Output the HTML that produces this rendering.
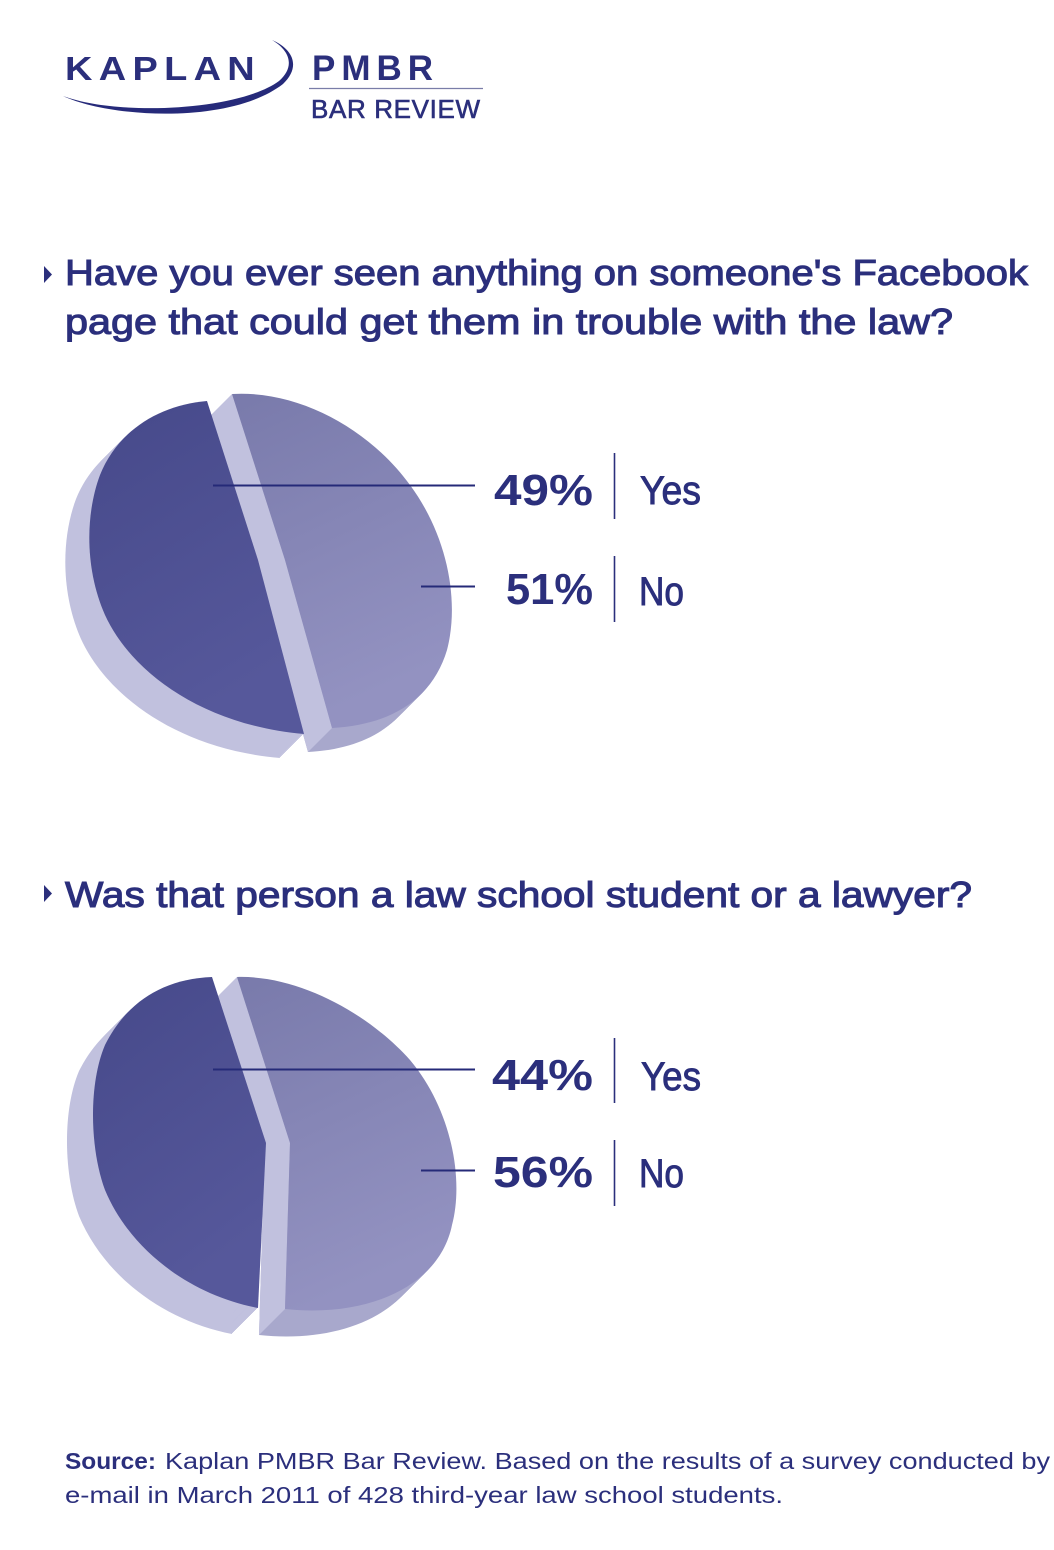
<!DOCTYPE html>
<html>
<head>
<meta charset="utf-8">
<style>
  html,body{margin:0;padding:0;background:#ffffff;}
  body{width:1054px;height:1550px;overflow:hidden;}
  svg{display:block;}
  .t{font-family:"Liberation Sans",sans-serif;fill:#2b2f7c;}
</style>
</head>
<body>
<svg width="1054" height="1550" viewBox="0 0 1054 1550" xmlns="http://www.w3.org/2000/svg">
  <defs>
    <linearGradient id="gd" x1="0" y1="0" x2="0.4" y2="1">
      <stop offset="0" stop-color="#46498a"/>
      <stop offset="1" stop-color="#56589b"/>
    </linearGradient>
    <linearGradient id="gl" x1="0" y1="0" x2="0.3" y2="1">
      <stop offset="0" stop-color="#797aab"/>
      <stop offset="1" stop-color="#9392c1"/>
    </linearGradient>
    <path id="d1" d="M207,401 C160,405 118,430 100,475 C85,515 85,570 105,615 C130,670 200,725 304,734 L258,560 Z"/>
    <path id="l1" d="M232,394 C300,390 370,430 410,485 C447,535 460,600 447,650 C432,700 390,725 332,728 L285,560 Z"/>
    <path id="d2" d="M212,977 C160,979 125,1005 105,1045 C88,1085 90,1150 105,1190 C130,1250 190,1295 258,1308 L266,1143 Z"/>
    <path id="l2" d="M237,977 C300,975 370,1015 410,1060 C452,1110 464,1180 452,1225 C440,1285 370,1318 285,1309 L290,1143 Z"/>
  </defs>

  <!-- ===== LOGO ===== -->
  <path d="M63,96 C110,118 230,125 283,84 C300,68 295,50 272,40 C292,52 294,68 279,81 C240,110 120,117 63,96 Z" fill="#262a7a"/>
  <text class="t" transform="translate(65,80) scale(1.15,1)" x="0" y="0" font-size="33" font-weight="bold" letter-spacing="5.5">KAPLAN</text>
  <text class="t" x="312" y="80" font-size="35" font-weight="bold" textLength="121" lengthAdjust="spacing">PMBR</text>
  <line x1="309" y1="88.5" x2="483" y2="88.5" stroke="#7a7da8" stroke-width="1.2"/>
  <text class="t" x="311" y="118" font-size="26" textLength="169" lengthAdjust="spacing" stroke="#2b2f7c" stroke-width="0.6">BAR REVIEW</text>

  <!-- ===== QUESTION 1 ===== -->
  <polygon points="44,266 52,274.5 44,283" fill="#2b2f7c"/>
  <text class="t" x="65" y="285" font-size="36" textLength="963" lengthAdjust="spacingAndGlyphs" stroke="#2b2f7c" stroke-width="1.05">Have you ever seen anything on someone's Facebook</text>
  <text class="t" x="65" y="334" font-size="36" textLength="888" lengthAdjust="spacingAndGlyphs" stroke="#2b2f7c" stroke-width="1.05">page that could get them in trouble with the law?</text>

  <!-- ===== PIE 1 ===== -->
  <g fill="#c1c1de">
    <use href="#d1" transform="translate(-1,1)"/><use href="#d1" transform="translate(-2,2)"/>
    <use href="#d1" transform="translate(-3,3)"/><use href="#d1" transform="translate(-4,4)"/>
    <use href="#d1" transform="translate(-5,5)"/><use href="#d1" transform="translate(-6,6)"/>
    <use href="#d1" transform="translate(-7,7)"/><use href="#d1" transform="translate(-8,8)"/>
    <use href="#d1" transform="translate(-9,9)"/><use href="#d1" transform="translate(-10,10)"/>
    <use href="#d1" transform="translate(-11,11)"/><use href="#d1" transform="translate(-12,12)"/>
    <use href="#d1" transform="translate(-13,13)"/><use href="#d1" transform="translate(-14,14)"/>
    <use href="#d1" transform="translate(-15,15)"/><use href="#d1" transform="translate(-16,16)"/>
    <use href="#d1" transform="translate(-17,17)"/><use href="#d1" transform="translate(-18,18)"/>
    <use href="#d1" transform="translate(-19,19)"/><use href="#d1" transform="translate(-20,20)"/>
    <use href="#d1" transform="translate(-21,21)"/><use href="#d1" transform="translate(-22,22)"/>
    <use href="#d1" transform="translate(-23,23)"/><use href="#d1" transform="translate(-24,24)"/>
  </g>
  <g fill="#a8a8cc">
    <use href="#l1" transform="translate(-1,1)"/><use href="#l1" transform="translate(-2,2)"/>
    <use href="#l1" transform="translate(-3,3)"/><use href="#l1" transform="translate(-4,4)"/>
    <use href="#l1" transform="translate(-5,5)"/><use href="#l1" transform="translate(-6,6)"/>
    <use href="#l1" transform="translate(-7,7)"/><use href="#l1" transform="translate(-8,8)"/>
    <use href="#l1" transform="translate(-9,9)"/><use href="#l1" transform="translate(-10,10)"/>
    <use href="#l1" transform="translate(-11,11)"/><use href="#l1" transform="translate(-12,12)"/>
    <use href="#l1" transform="translate(-13,13)"/><use href="#l1" transform="translate(-14,14)"/>
    <use href="#l1" transform="translate(-15,15)"/><use href="#l1" transform="translate(-16,16)"/>
    <use href="#l1" transform="translate(-17,17)"/><use href="#l1" transform="translate(-18,18)"/>
    <use href="#l1" transform="translate(-19,19)"/><use href="#l1" transform="translate(-20,20)"/>
    <use href="#l1" transform="translate(-21,21)"/><use href="#l1" transform="translate(-22,22)"/>
    <use href="#l1" transform="translate(-23,23)"/><use href="#l1" transform="translate(-24,24)"/>
  </g>
  <polygon points="232,394 285,560 332,728 308,752 261,584 208,418" fill="#c1c1de"/>
  <use href="#d1" fill="url(#gd)"/>
  <use href="#l1" fill="url(#gl)"/>
  <line x1="213" y1="485.5" x2="475" y2="485.5" stroke="#252a78" stroke-width="2"/>
  <line x1="421" y1="586.5" x2="475" y2="586.5" stroke="#252a78" stroke-width="2"/>

  <text class="t" x="494" y="505" font-size="44" font-weight="bold" textLength="99" lengthAdjust="spacingAndGlyphs">49%</text>
  <line x1="614.5" y1="453" x2="614.5" y2="519" stroke="#2b2f7c" stroke-width="1.6"/>
  <text class="t" x="640" y="504" font-size="40" textLength="61" lengthAdjust="spacingAndGlyphs" stroke="#2b2f7c" stroke-width="0.9">Yes</text>
  <text class="t" x="506" y="604" font-size="44" font-weight="bold" textLength="87" lengthAdjust="spacingAndGlyphs">51%</text>
  <line x1="614.5" y1="556" x2="614.5" y2="622" stroke="#2b2f7c" stroke-width="1.6"/>
  <text class="t" x="639" y="605" font-size="40" textLength="45" lengthAdjust="spacingAndGlyphs" stroke="#2b2f7c" stroke-width="0.9">No</text>

  <!-- ===== QUESTION 2 ===== -->
  <polygon points="44,885 52,893.5 44,902" fill="#2b2f7c"/>
  <text class="t" x="65" y="907" font-size="36" textLength="907" lengthAdjust="spacingAndGlyphs" stroke="#2b2f7c" stroke-width="1.05">Was that person a law school student or a lawyer?</text>

  <!-- ===== PIE 2 ===== -->
  <g fill="#c1c1de">
    <use href="#d2" transform="translate(-1,1)"/><use href="#d2" transform="translate(-2,2)"/>
    <use href="#d2" transform="translate(-3,3)"/><use href="#d2" transform="translate(-4,4)"/>
    <use href="#d2" transform="translate(-5,5)"/><use href="#d2" transform="translate(-6,6)"/>
    <use href="#d2" transform="translate(-7,7)"/><use href="#d2" transform="translate(-8,8)"/>
    <use href="#d2" transform="translate(-9,9)"/><use href="#d2" transform="translate(-10,10)"/>
    <use href="#d2" transform="translate(-11,11)"/><use href="#d2" transform="translate(-12,12)"/>
    <use href="#d2" transform="translate(-13,13)"/><use href="#d2" transform="translate(-14,14)"/>
    <use href="#d2" transform="translate(-15,15)"/><use href="#d2" transform="translate(-16,16)"/>
    <use href="#d2" transform="translate(-17,17)"/><use href="#d2" transform="translate(-18,18)"/>
    <use href="#d2" transform="translate(-19,19)"/><use href="#d2" transform="translate(-20,20)"/>
    <use href="#d2" transform="translate(-21,21)"/><use href="#d2" transform="translate(-22,22)"/>
    <use href="#d2" transform="translate(-23,23)"/><use href="#d2" transform="translate(-24,24)"/>
    <use href="#d2" transform="translate(-25,25)"/><use href="#d2" transform="translate(-26,26)"/>
  </g>
  <g fill="#a8a8cc">
    <use href="#l2" transform="translate(-1,1)"/><use href="#l2" transform="translate(-2,2)"/>
    <use href="#l2" transform="translate(-3,3)"/><use href="#l2" transform="translate(-4,4)"/>
    <use href="#l2" transform="translate(-5,5)"/><use href="#l2" transform="translate(-6,6)"/>
    <use href="#l2" transform="translate(-7,7)"/><use href="#l2" transform="translate(-8,8)"/>
    <use href="#l2" transform="translate(-9,9)"/><use href="#l2" transform="translate(-10,10)"/>
    <use href="#l2" transform="translate(-11,11)"/><use href="#l2" transform="translate(-12,12)"/>
    <use href="#l2" transform="translate(-13,13)"/><use href="#l2" transform="translate(-14,14)"/>
    <use href="#l2" transform="translate(-15,15)"/><use href="#l2" transform="translate(-16,16)"/>
    <use href="#l2" transform="translate(-17,17)"/><use href="#l2" transform="translate(-18,18)"/>
    <use href="#l2" transform="translate(-19,19)"/><use href="#l2" transform="translate(-20,20)"/>
    <use href="#l2" transform="translate(-21,21)"/><use href="#l2" transform="translate(-22,22)"/>
    <use href="#l2" transform="translate(-23,23)"/><use href="#l2" transform="translate(-24,24)"/>
    <use href="#l2" transform="translate(-25,25)"/><use href="#l2" transform="translate(-26,26)"/>
  </g>
  <polygon points="237,977 290,1143 285,1309 259,1335 264,1169 211,1003" fill="#c1c1de"/>
  <use href="#d2" fill="url(#gd)"/>
  <use href="#l2" fill="url(#gl)"/>
  <line x1="213" y1="1069.5" x2="475" y2="1069.5" stroke="#252a78" stroke-width="2"/>
  <line x1="421" y1="1170.5" x2="475" y2="1170.5" stroke="#252a78" stroke-width="2"/>

  <text class="t" x="492" y="1090" font-size="44" font-weight="bold" textLength="101" lengthAdjust="spacingAndGlyphs">44%</text>
  <line x1="614.5" y1="1038" x2="614.5" y2="1103" stroke="#2b2f7c" stroke-width="1.6"/>
  <text class="t" x="641" y="1090" font-size="40" textLength="60" lengthAdjust="spacingAndGlyphs" stroke="#2b2f7c" stroke-width="0.9">Yes</text>
  <text class="t" x="493" y="1187" font-size="44" font-weight="bold" textLength="100" lengthAdjust="spacingAndGlyphs">56%</text>
  <line x1="614.5" y1="1140" x2="614.5" y2="1206" stroke="#2b2f7c" stroke-width="1.6"/>
  <text class="t" x="639" y="1187" font-size="40" textLength="45" lengthAdjust="spacingAndGlyphs" stroke="#2b2f7c" stroke-width="0.9">No</text>

  <!-- ===== SOURCE ===== -->
  <text class="t" x="65" y="1469" font-size="23" font-weight="bold" textLength="91" lengthAdjust="spacingAndGlyphs">Source:</text>
  <text class="t" x="165" y="1469" font-size="23" textLength="885" lengthAdjust="spacingAndGlyphs">Kaplan PMBR Bar Review.  Based on the results of a survey conducted by</text>
  <text class="t" x="65" y="1503" font-size="23" textLength="718" lengthAdjust="spacingAndGlyphs">e-mail in March 2011 of 428 third-year law school students.</text>
</svg>
</body>
</html>
